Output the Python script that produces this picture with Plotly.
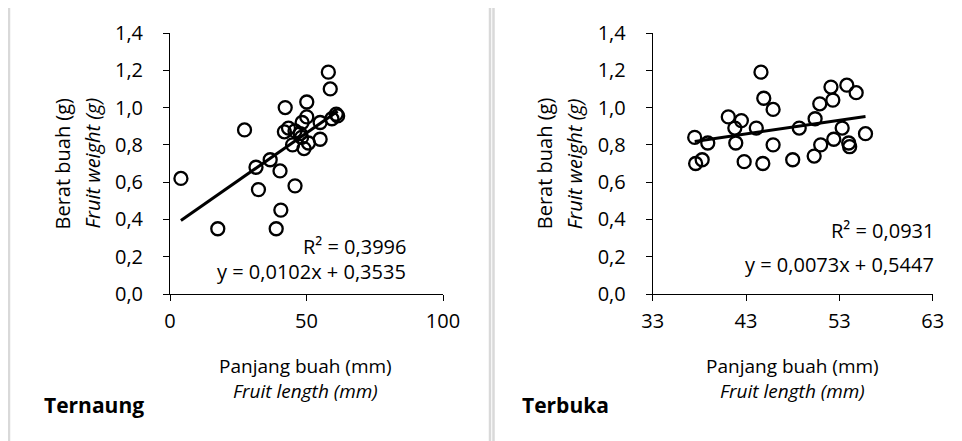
import plotly.graph_objects as go

# ---------------- data ----------------
ternaung_length = [4.0, 17.5, 27.3, 31.5, 32.4, 36.7, 40.3, 40.6, 38.9, 42.2, 41.9, 43.4, 45.8, 44.9,
                   45.8, 47.7, 48.2, 49.1, 50.1, 50.1, 48.4, 50.7, 55.0, 55.0, 58.0, 58.7, 59.3, 60.9, 61.4]
ternaung_weight = [0.62, 0.35, 0.88, 0.68, 0.56, 0.72, 0.66, 0.45, 0.35, 1.00, 0.87, 0.89, 0.875, 0.80,
                   0.58, 0.86, 0.84, 0.78, 1.03, 0.95, 0.92, 0.81, 0.92, 0.83, 1.19, 1.10, 0.94, 0.965, 0.955]
ternaung_fit = {"slope": 0.0102, "intercept": 0.3535, "r2": "0,3996"}

terbuka_length = [37.5, 37.6, 38.3, 38.9, 41.1, 41.8, 42.5, 41.9, 42.8, 44.1, 44.6, 44.9, 44.8, 45.9, 45.9,
                  48.0, 48.7, 50.4, 50.3, 50.9, 51.0, 52.1, 52.3, 52.4, 53.3, 53.8, 54.0, 54.1, 54.8, 55.8]
terbuka_weight = [0.84, 0.70, 0.72, 0.81, 0.95, 0.89, 0.93, 0.81, 0.71, 0.89, 1.19, 1.05, 0.70, 0.99, 0.80,
                  0.72, 0.89, 0.94, 0.74, 1.02, 0.80, 1.11, 1.04, 0.83, 0.89, 1.12, 0.81, 0.79, 1.08, 0.86]
terbuka_fit = {"slope": 0.0073, "intercept": 0.5447, "r2": "0,0931"}

x_ticks_left = [0, 50, 100]
x_ticks_right = [33, 43, 53, 63]
y_ticks = [0.0, 0.2, 0.4, 0.6, 0.8, 1.0, 1.2, 1.4]

W, H = 962, 441
OFF = 8  # page body margin
FONT = "Open Sans"
FS = 20


def px(x):
    return (x - OFF) / W


def py(y):
    return 1 - (y - OFF) / H


fig = go.Figure()

panels = [
    ("x", "y", ternaung_length, ternaung_weight, ternaung_fit),
    ("x2", "y2", terbuka_length, terbuka_weight, terbuka_fit),
]
for xa, ya, xs, ys, fit in panels:
    fig.add_trace(go.Scatter(
        x=xs, y=ys, mode="markers", xaxis=xa, yaxis=ya,
        marker=dict(symbol="circle-open", size=13, color="black", line=dict(width=2.3, color="black")),
        showlegend=False, hoverinfo="x+y"))
    x0, x1 = min(xs), max(xs)
    fig.add_trace(go.Scatter(
        x=[x0, x1], y=[fit["slope"] * x0 + fit["intercept"], fit["slope"] * x1 + fit["intercept"]],
        mode="lines", xaxis=xa, yaxis=ya, line=dict(color="black", width=3),
        showlegend=False, hoverinfo="skip"))

axis_common = dict(showgrid=False, zeroline=False, showline=True, linecolor="black", linewidth=1,
                   ticks="outside", ticklen=6, tickcolor="black", tickwidth=1, automargin=False,
                   tickfont=dict(family=FONT, size=FS, color="black"), fixedrange=True)

y_dom = [py(294), py(33)]
fig.update_layout(
    width=W, height=H, margin=dict(l=0, r=0, t=0, b=0),
    paper_bgcolor="white", plot_bgcolor="white",
    separators=",.",
    font=dict(family=FONT, size=FS, color="black"),
    xaxis=dict(domain=[px(170), px(443)], range=[0, 100], tickvals=x_ticks_left, anchor="y",
               ticklabelstandoff=3, **axis_common),
    yaxis=dict(domain=y_dom, range=[0, 1.4], tickvals=y_ticks, tickformat=".1f", anchor="x",
               ticklabelstandoff=16, **axis_common),
    xaxis2=dict(domain=[px(652.7), px(932.7)], range=[33, 63], tickvals=x_ticks_right, anchor="y2",
                ticklabelstandoff=3, **axis_common),
    yaxis2=dict(domain=y_dom, range=[0, 1.4], tickvals=y_ticks, tickformat=".1f", anchor="x2",
                ticklabelstandoff=16, **axis_common),
)

# panel borders
border = dict(color="#d9d9d9", width=2.5)
fig.add_shape(type="rect", xref="paper", yref="paper", x0=px(9), x1=px(490), y0=py(460), y1=py(4.5),
              line=border, fillcolor="rgba(0,0,0,0)", layer="below")
fig.add_shape(type="rect", xref="paper", yref="paper", x0=px(493.5), x1=px(990), y0=py(460), y1=py(4.5),
              line=border, fillcolor="rgba(0,0,0,0)", layer="below")

ann = []
# x axis titles (two lines: Indonesian + italic English)
for cx in [305, 792.7]:
    ann.append(dict(text="Panjang buah (mm)<br><i>Fruit length (mm)</i>", x=px(cx), y=py(378),
                    xref="paper", yref="paper", showarrow=False, xanchor="center", yanchor="middle",
                    align="center", font=dict(size=19)))
# y axis titles
for axx in [170, 652.7]:
    ann.append(dict(text="Berat buah (g)", x=px(axx - 108), y=py(163.5), xref="paper", yref="paper",
                    showarrow=False, textangle=-90, xanchor="center", yanchor="middle", font=dict(size=FS)))
    ann.append(dict(text="<i>Fruit weight (g)</i>", x=px(axx - 78), y=py(163.5), xref="paper", yref="paper",
                    showarrow=False, textangle=-90, xanchor="center", yanchor="middle", font=dict(size=FS)))
# panel labels
ann.append(dict(text="<b>Ternaung</b>", x=px(42), y=py(405), xref="paper", yref="paper", showarrow=False,
                xanchor="left", yanchor="middle", font=dict(size=FS + 1)))
ann.append(dict(text="<b>Terbuka</b>", x=px(520), y=py(405), xref="paper", yref="paper", showarrow=False,
                xanchor="left", yanchor="middle", font=dict(size=FS + 1)))
# regression annotations
for right_x, y1, y2, fit in [(408, 246.7, 271.7, ternaung_fit), (936, 230, 264, terbuka_fit)]:
    ann.append(dict(text=f"R² = {fit['r2']}", x=px(right_x), y=py(y1), xref="paper", yref="paper",
                    showarrow=False, xanchor="right", yanchor="middle", font=dict(size=FS)))
    eq = f"y = {fit['slope']:.4f}x + {fit['intercept']:.4f}".replace(".", ",")
    ann.append(dict(text=eq, x=px(right_x), y=py(y2), xref="paper", yref="paper",
                    showarrow=False, xanchor="right", yanchor="middle", font=dict(size=FS)))

fig.update_layout(annotations=ann)
fig.write_html("out.html")
